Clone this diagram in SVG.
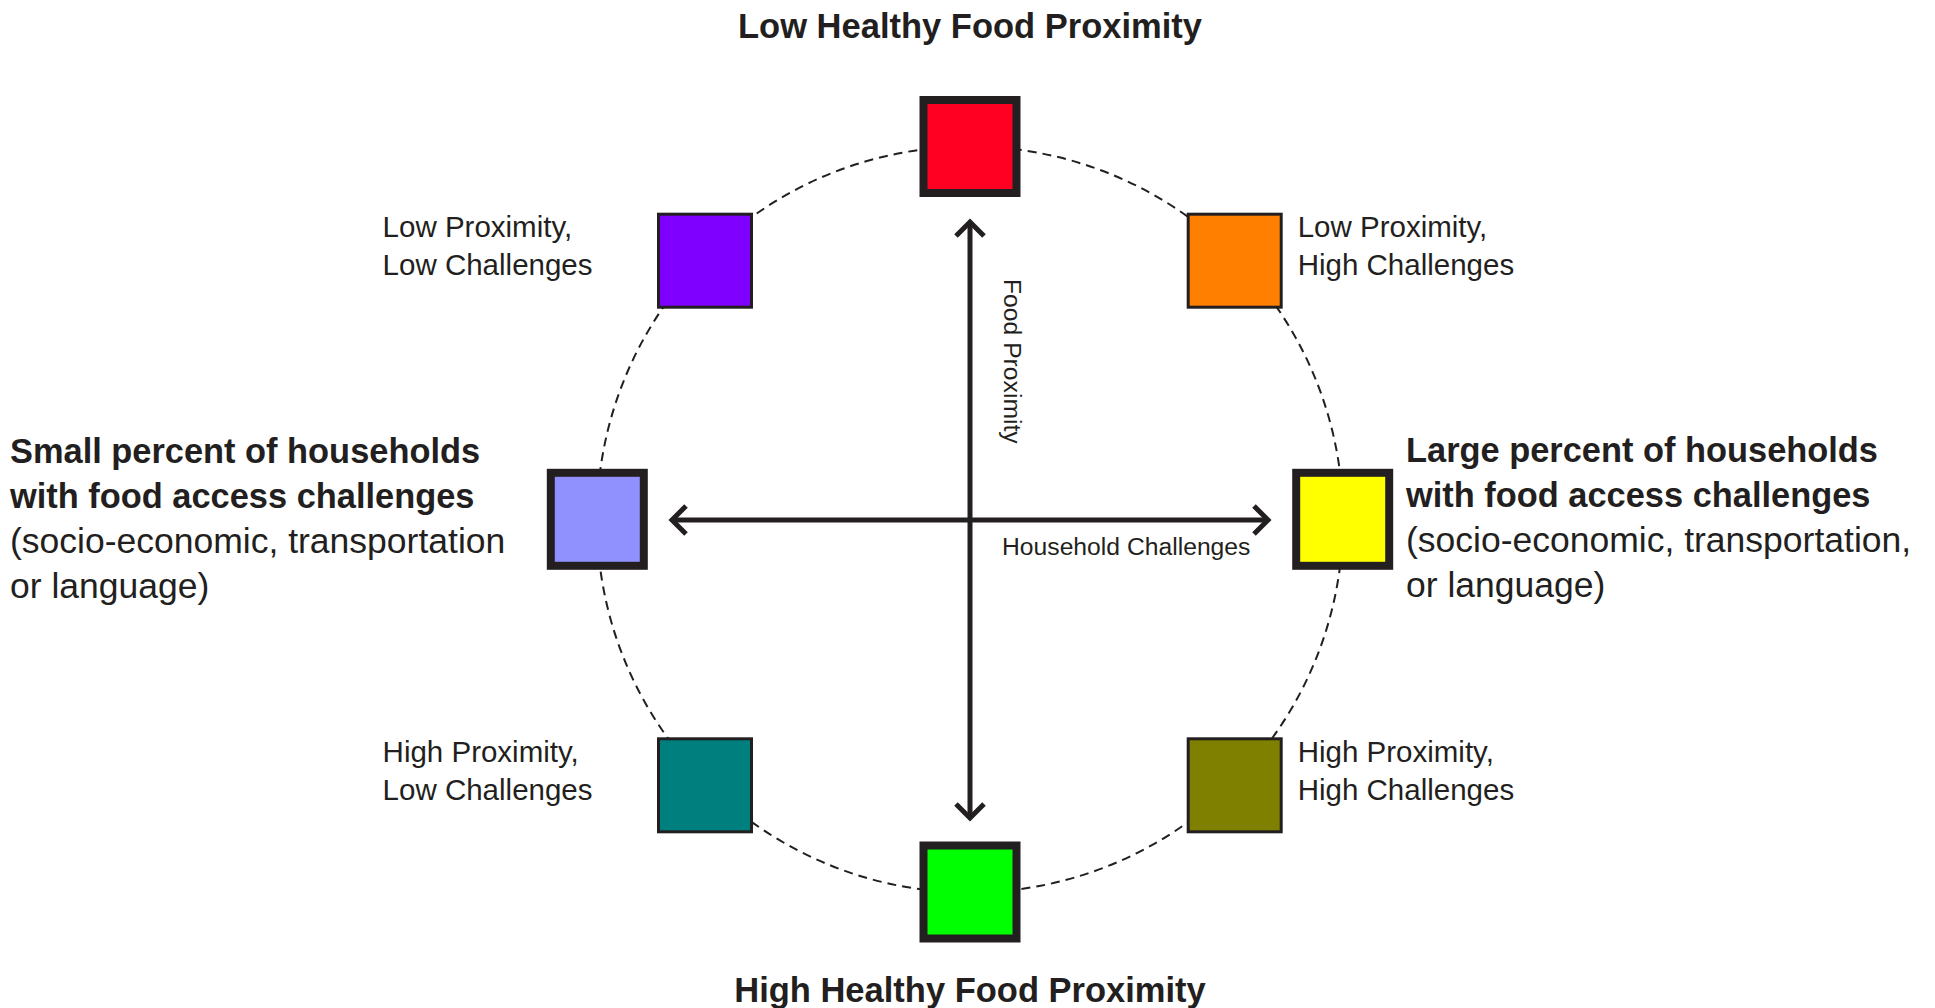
<svg xmlns="http://www.w3.org/2000/svg" width="1935" height="1008" viewBox="0 0 1935 1008">
<style>
  .bg { fill: #ffffff; }
  .ring { fill: none; stroke: #231f20; stroke-width: 2; stroke-dasharray: 9 6; }
  .big { stroke: #231f20; stroke-width: 8; }
  .small { stroke: #231f20; stroke-width: 3; }
  .axis { fill: none; stroke: #231f20; stroke-width: 5; stroke-linecap: butt; stroke-linejoin: miter; }
  text { fill: #231f20; font-family: "Liberation Sans", Arial, sans-serif; }
  .title { font-size: 34.5px; font-weight: bold; text-anchor: middle; }
  .side-b { font-size: 34.4px; font-weight: bold; }
  .side-r { font-size: 35.5px; }
  .corner { font-size: 29.5px; }
  .axislbl { font-size: 24.7px; }
</style>
<rect class="bg" x="0" y="0" width="1935" height="1008"/>

<g id="ring">
  <circle class="ring" cx="970" cy="519.5" r="373"/>
</g>

<g id="connectors">
  <line class="axis" x1="970" y1="222" x2="970" y2="818"/>
  <polyline class="axis" points="956,236 970,222 984,236"/>
  <polyline class="axis" points="956,804 970,818 984,804"/>
  <line class="axis" x1="672" y1="520" x2="1268" y2="520"/>
  <polyline class="axis" points="686,506 672,520 686,534"/>
  <polyline class="axis" points="1254,506 1268,520 1254,534"/>
</g>

<g id="node-low-healthy">
  <rect class="big" x="923.5" y="100" width="93" height="93" fill="#ff0022"/>
  <text class="title" x="970" y="37.5">Low Healthy Food Proximity</text>
</g>

<g id="node-high-healthy">
  <rect class="big" x="923.5" y="845.5" width="93" height="93" fill="#00ff00"/>
  <text class="title" x="970" y="1002">High Healthy Food Proximity</text>
</g>

<g id="node-small-percent">
  <rect class="big" x="550.8" y="472.8" width="93" height="93" fill="#9090ff"/>
  <text class="side-b" x="10" y="462.5">Small percent of households</text>
  <text class="side-b" x="10" y="507.5">with food access challenges</text>
  <text class="side-r" x="10" y="552.5">(socio-economic, transportation</text>
  <text class="side-r" x="10" y="597.5">or language)</text>
</g>

<g id="node-large-percent">
  <rect class="big" x="1296.2" y="472.8" width="93" height="93" fill="#ffff00"/>
  <text class="side-b" x="1406" y="461.5">Large percent of households</text>
  <text class="side-b" x="1406" y="506.5">with food access challenges</text>
  <text class="side-r" x="1406" y="551.5">(socio-economic, transportation,</text>
  <text class="side-r" x="1406" y="596.5">or language)</text>
</g>

<g id="node-low-low">
  <rect class="small" x="658.5" y="214.2" width="93" height="93" fill="#7f00ff"/>
  <text class="corner" x="382.6" y="237">Low Proximity,</text>
  <text class="corner" x="382.6" y="274.5">Low Challenges</text>
</g>

<g id="node-low-high">
  <rect class="small" x="1188.2" y="214.2" width="93" height="93" fill="#ff7f00"/>
  <text class="corner" x="1297.7" y="237">Low Proximity,</text>
  <text class="corner" x="1297.7" y="274.5">High Challenges</text>
</g>

<g id="node-high-low">
  <rect class="small" x="658.5" y="738.8" width="93" height="93" fill="#007f7f"/>
  <text class="corner" x="382.6" y="762">High Proximity,</text>
  <text class="corner" x="382.6" y="799.5">Low Challenges</text>
</g>

<g id="node-high-high">
  <rect class="small" x="1188.2" y="738.8" width="93" height="93" fill="#7f7f00"/>
  <text class="corner" x="1297.7" y="762">High Proximity,</text>
  <text class="corner" x="1297.7" y="799.5">High Challenges</text>
</g>

<g id="axis-labels">
  <text class="axislbl" transform="translate(1003.5,279) rotate(90)">Food Proximity</text>
  <text class="axislbl" x="1002" y="555">Household Challenges</text>
</g>
</svg>
